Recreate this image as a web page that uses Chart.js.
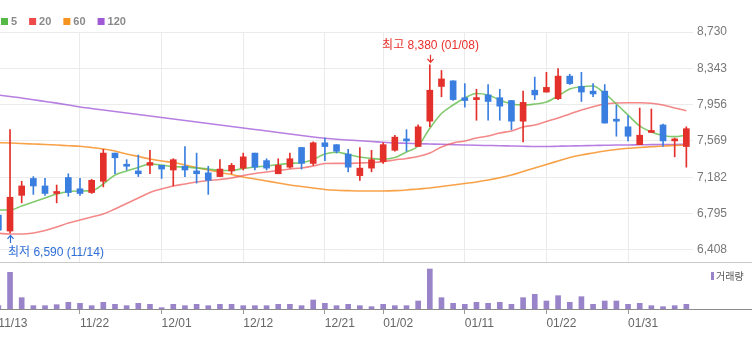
<!DOCTYPE html>
<html>
<head>
<meta charset="utf-8">
<script src="https://cdn.jsdelivr.net/npm/chart.js@4.4.1/dist/chart.umd.min.js"></script>
<style>
  html, body { margin: 0; padding: 0; background: #fff; }
  #wrap { position: relative; width: 752px; height: 337px; overflow: hidden; }
  #price { position: absolute; left: 0; top: 0; width: 752px; height: 262px; }
  #volume { position: absolute; left: 0; top: 262px; width: 752px; height: 75px; }
</style>
</head>
<body>
<div id="wrap">
  <canvas id="price" width="752" height="262"></canvas>
  <canvas id="volume" width="752" height="75"></canvas>
</div>
<script>
// Trading days shown on the chart
const dates = [
  '11/13','11/14','11/15','11/16','11/17','11/20','11/21','11/22','11/23','11/24',
  '11/27','11/28','11/29','11/30','12/01','12/04','12/05','12/06','12/07','12/08',
  '12/11','12/12','12/13','12/14','12/15','12/18','12/19','12/20','12/21','12/22',
  '12/26','12/27','12/28','01/02','01/03','01/04','01/05','01/08','01/09','01/10',
  '01/11','01/12','01/15','01/16','01/17','01/18','01/19','01/22','01/23','01/24',
  '01/25','01/26','01/29','01/30','01/31','02/01','02/02','02/05','02/06','02/07'
];

// Daily prices (KRW)
const openPrices = [
  6780, 6610, 6990, 7170, 7090, 7010, 7180, 7060, 7020, 7140,
  7440, 7320, 7250, 7310, 7310, 7260, 7300, 7250, 7230, 7190,
  7250, 7280, 7440, 7360, 7220, 7290, 7500, 7330, 7550, 7530,
  7430, 7200, 7280, 7350, 7470, 7590, 7510, 7780, 8150, 8210,
  8030, 8010, 8060, 8030, 8000, 7780, 8110, 8090, 8020, 8260,
  8150, 8100, 8100, 7800, 7720, 7530, 7660, 7740, 7570, 7510
];
const highPrices = [
  6800, 7690, 7140, 7190, 7170, 7100, 7220, 7170, 7160, 7480,
  7440, 7370, 7420, 7470, 7310, 7380, 7510, 7440, 7300, 7370,
  7330, 7440, 7440, 7380, 7380, 7440, 7500, 7560, 7600, 7530,
  7480, 7500, 7470, 7550, 7630, 7690, 7740, 8380, 8320, 8210,
  8180, 8120, 8170, 8120, 8000, 8100, 8250, 8300, 8340, 8280,
  8300, 8180, 8170, 7950, 7840, 7920, 7910, 7750, 7600, 7720
];
const lowPrices = [
  6600, 6590, 6910, 7000, 6990, 6910, 6980, 6990, 7010, 7080,
  7220, 7260, 7190, 7220, 7170, 7090, 7190, 7120, 7000, 7190,
  7220, 7260, 7260, 7260, 7220, 7280, 7270, 7310, 7360, 7440,
  7240, 7150, 7240, 7330, 7460, 7460, 7510, 7720, 8040, 8000,
  7930, 7790, 7790, 7790, 7690, 7560, 8010, 8090, 8010, 8170,
  7990, 8040, 7760, 7620, 7570, 7530, 7660, 7510, 7400, 7290
];
const closePrices = [
  6620, 6970, 7090, 7090, 7010, 7030, 7020, 7010, 7150, 7440,
  7390, 7300, 7220, 7340, 7270, 7370, 7260, 7220, 7150, 7270,
  7310, 7400, 7290, 7280, 7310, 7380, 7330, 7550, 7510, 7460,
  7290, 7280, 7370, 7530, 7610, 7570, 7720, 8110, 8230, 8010,
  8000, 8020, 7990, 7940, 7780, 7980, 8060, 8140, 8260, 8180,
  8090, 8070, 7760, 7780, 7620, 7630, 7670, 7570, 7590, 7700
];

// Moving averages
const ma5 = [
  6834, 6834, 6877, 6919, 6962, 7004, 7031, 7036, 7040, 7111,
  7207, 7249, 7287, 7324, 7313, 7295, 7292, 7281, 7271, 7255,
  7255, 7276, 7292, 7303, 7319, 7331, 7338, 7372, 7431, 7449,
  7425, 7399, 7383, 7374, 7393, 7452, 7516, 7704, 7862, 7952,
  8027, 8075, 8059, 8006, 7963, 7952, 7963, 7984, 8048, 8123,
  8147, 8155, 8075, 7963, 7846, 7729, 7665, 7628, 7615, 7633
];
const ma20 = [
  6586, 6578, 6578, 6589, 6616, 6653, 6696, 6728, 6760, 6791,
  6845, 6903, 6962, 7020, 7058, 7090, 7111, 7132, 7148, 7159,
  7175, 7202, 7223, 7239, 7255, 7271, 7281, 7303, 7329, 7331,
  7331, 7335, 7340, 7349, 7367, 7383, 7404, 7441, 7505, 7548,
  7569, 7601, 7622, 7654, 7676, 7718, 7740, 7777, 7814, 7857,
  7899, 7934, 7963, 7974, 7977, 7977, 7971, 7952, 7921, 7892
];
const ma60 = [
  7551, 7548, 7542, 7537, 7532, 7526, 7519, 7513, 7500, 7484,
  7462, 7431, 7404, 7377, 7356, 7340, 7313, 7287, 7260, 7234,
  7212, 7186, 7164, 7143, 7122, 7100, 7084, 7068, 7052, 7044,
  7040, 7037, 7037, 7037, 7040, 7047, 7058, 7068, 7084, 7100,
  7116, 7132, 7154, 7178, 7207, 7244, 7281, 7319, 7356, 7393,
  7420, 7441, 7462, 7478, 7491, 7500, 7507, 7516, 7521, 7526
];
const ma120 = [
  8059, 8043, 8027, 8008, 7990, 7972, 7952, 7931, 7915, 7899,
  7883, 7867, 7851, 7835, 7819, 7803, 7787, 7771, 7755, 7740,
  7724, 7708, 7692, 7676, 7660, 7644, 7628, 7612, 7598, 7587,
  7580, 7572, 7564, 7555, 7548, 7545, 7540, 7537, 7534, 7530,
  7526, 7523, 7521, 7519, 7516, 7513, 7510, 7510, 7513, 7516,
  7518, 7521, 7523, 7526, 7526, 7529, 7530, 7531, 7532, 7534
];

// Daily traded volume (shares)
const volumes = [
   100000, 1100000,  340000,  100000,  100000,  130000,  200000,  170000,  100000,  200000,
   140000,  100000,  170000,  140000,   40000,  140000,  100000,  140000,  100000,  140000,
   140000,  100000,  100000,  100000,  140000,  140000,  100000,  270000,  170000,  100000,
   140000,  100000,   70000,  140000,  100000,  100000,  240000, 1200000,  340000,  170000,
   140000,  200000,  170000,  200000,  140000,  340000,  440000,  240000,  400000,  200000,
   370000,  140000,  240000,  240000,  140000,  170000,  100000,   70000,  100000,  140000
];

// Axis labels
const tickDates = ['11/13','11/22','12/01','12/12','12/21','01/02','01/11','01/22','01/31'];
const priceTicks = [6408, 6795, 7182, 7569, 7956, 8343, 8730];
const maPeriods = ['5', '20', '60', '120'];
const volumeLabel = '거래량';

// ---- styling ----
const UP = '#e3302a';
const DOWN = '#3a7fe0';
const UP_TEXT = '#e8302a';
const DOWN_TEXT = '#2e6fd6';
const GRID = '#ebebeb';
const NUM_FONT = '"Liberation Sans", Arial, "Noto Sans CJK KR", sans-serif';
const maLineColors = ['rgba(98,188,72,0.8)', 'rgba(240,86,86,0.7)', 'rgba(247,146,40,0.85)', 'rgba(165,95,218,0.8)'];
const maLegendColors = ['#56b947', '#ef4a4a', '#f7941d', '#a05ad6'];
const maSeries = [ma5, ma20, ma60, ma120];

// visible index window (first session partly cut at the left edge)
const X_MIN = 0.14, X_MAX = 59.57;
const PRICE_MIN = 6280, PRICE_MAX = 8730;
const VOL_MAX = 1410000;

const idx = dates.map((_, i) => i);
const tickIndex = tickDates.map(d => dates.indexOf(d));
const candleColors = idx.map(i => closePrices[i] >= openPrices[i] ? UP : DOWN);
const fmt = v => Number(v).toLocaleString('en-US');

function dateTicks(scale) {
  scale.ticks = tickIndex.map(v => ({ value: v }));
}

// MA legend in the top-left corner
const maLegendPlugin = {
  id: 'maLegend',
  afterDraw(chart) {
    const ctx = chart.ctx;
    ctx.save();
    ctx.font = 'bold 11px ' + NUM_FONT;
    ctx.textBaseline = 'middle';
    let lx = 1;
    const cy = 21.5;
    maPeriods.forEach((p, k) => {
      ctx.fillStyle = maLegendColors[k];
      ctx.fillRect(lx, cy - 3.5, 7, 7);
      ctx.fillStyle = '#8a8a8a';
      ctx.fillText(p, lx + 10, cy);
      lx += 10 + ctx.measureText(p).width + 12;
    });
    ctx.restore();
  }
};

// Highest high / lowest low markers
function drawExtreme(chart, i, value, dir, label, color) {
  const { ctx, scales: { x, y } } = chart;
  const px = Math.round(x.getPixelForValue(i)) + 0.5;
  const py = y.getPixelForValue(value);
  const tip = py + dir * 2.5;
  const tail = py + dir * 10;
  ctx.strokeStyle = color;
  ctx.fillStyle = color;
  ctx.lineWidth = 1.2;
  ctx.beginPath();
  ctx.moveTo(px, tail);
  ctx.lineTo(px, tip);
  ctx.moveTo(px - 3, tip + dir * 3.5);
  ctx.lineTo(px, tip);
  ctx.lineTo(px + 3, tip + dir * 3.5);
  ctx.stroke();
  ctx.font = '12px ' + NUM_FONT;
  ctx.textBaseline = 'middle';
  ctx.textAlign = 'left';
  const w = ctx.measureText(label).width;
  let tx = px - w / 2;
  tx = Math.max(8, Math.min(tx, chart.chartArea.right - w));
  ctx.fillText(label, tx, py + dir * 19.5);
}

const extremesPlugin = {
  id: 'extremes',
  afterDatasetsDraw(chart) {
    let hi = 0, lo = 0;
    highPrices.forEach((v, i) => { if (v > highPrices[hi]) hi = i; });
    lowPrices.forEach((v, i) => { if (v < lowPrices[lo]) lo = i; });
    chart.ctx.save();
    drawExtreme(chart, hi, highPrices[hi], -1, '최고 ' + fmt(highPrices[hi]) + ' (' + dates[hi] + ')', UP_TEXT);
    drawExtreme(chart, lo, lowPrices[lo], 1, '최저 ' + fmt(lowPrices[lo]) + ' (' + dates[lo] + ')', DOWN_TEXT);
    chart.ctx.restore();
  }
};

// Volume panel frame and legend
const volumePanelPlugin = {
  id: 'volumePanel',
  afterDatasetsDraw(chart) {
    const { ctx, chartArea, width } = chart;
    ctx.save();
    ctx.lineWidth = 1;
    ctx.strokeStyle = '#c9c9c9';
    ctx.beginPath();
    ctx.moveTo(0, 0.5);
    ctx.lineTo(width, 0.5);
    ctx.stroke();
    ctx.strokeStyle = '#8c8c8c';
    ctx.beginPath();
    ctx.moveTo(0, Math.round(chartArea.bottom) + 0.5);
    ctx.lineTo(width, Math.round(chartArea.bottom) + 0.5);
    ctx.stroke();
    ctx.fillStyle = '#9a84c9';
    ctx.fillRect(711, 10, 3, 8);
    ctx.fillStyle = '#555';
    ctx.font = '10px "Noto Sans CJK KR", sans-serif';
    ctx.textBaseline = 'middle';
    ctx.fillText(volumeLabel, 716, 14.5);
    ctx.restore();
  }
};

new Chart(document.getElementById('price'), {
  type: 'bar',
  data: {
    datasets: [
      ...maSeries.map((s, k) => ({
        type: 'line',
        label: maPeriods[k],
        data: s.map((v, i) => ({ x: i, y: v })),
        borderColor: maLineColors[k],
        borderWidth: 1.6,
        pointRadius: 0,
        cubicInterpolationMode: 'monotone',
        order: 2
      })),
      {
        label: 'wick',
        data: idx.map(i => ({ x: i, y: [lowPrices[i], highPrices[i]] })),
        backgroundColor: candleColors,
        barThickness: 1,
        grouped: false,
        order: 1
      },
      {
        label: 'body',
        data: idx.map(i => ({ x: i, y: [openPrices[i], closePrices[i]] })),
        backgroundColor: candleColors,
        barThickness: 6,
        minBarLength: 2,
        grouped: false,
        order: 0
      }
    ]
  },
  options: {
    responsive: false,
    animation: false,
    events: [],
    layout: { padding: { top: 32, left: 0, right: 0, bottom: 0 } },
    plugins: { legend: { display: false }, tooltip: { enabled: false } },
    scales: {
      x: {
        type: 'linear', min: X_MIN, max: X_MAX, offset: false,
        afterBuildTicks: dateTicks,
        grid: { color: GRID, drawTicks: false, offset: false },
        border: { display: false },
        ticks: { display: false },
        afterFit: s => { s.height = 0; s.paddingLeft = 0; s.paddingRight = 0; }
      },
      y: {
        position: 'right', min: PRICE_MIN, max: PRICE_MAX,
        afterBuildTicks: s => { s.ticks = priceTicks.map(v => ({ value: v })); },
        grid: { color: GRID, drawTicks: false },
        border: { display: false },
        ticks: { padding: 4, color: '#777', font: { family: NUM_FONT, size: 12 }, callback: v => fmt(v) },
        afterFit: s => { s.width = 59; s.paddingTop = 0; s.paddingBottom = 0; }
      }
    }
  },
  plugins: [maLegendPlugin, extremesPlugin]
});

new Chart(document.getElementById('volume'), {
  type: 'bar',
  data: {
    datasets: [{
      label: volumeLabel,
      data: idx.map(i => ({ x: i, y: volumes[i] })),
      backgroundColor: '#9a84c9',
      barThickness: 5
    }]
  },
  options: {
    responsive: false,
    animation: false,
    events: [],
    layout: { padding: { top: 0, left: 0, right: 59, bottom: 0 } },
    plugins: { legend: { display: false }, tooltip: { enabled: false } },
    scales: {
      x: {
        type: 'linear', min: X_MIN, max: X_MAX, offset: false,
        afterBuildTicks: dateTicks,
        grid: { drawOnChartArea: false, drawTicks: true, tickLength: 5, color: '#999', offset: false },
        border: { display: false },
        ticks: {
          align: 'start', padding: 2, color: '#666', maxRotation: 0, autoSkip: false,
          font: { family: NUM_FONT, size: 12 },
          callback: (v, i) => tickDates[i]
        },
        afterFit: s => { s.height = 28; s.paddingLeft = 0; s.paddingRight = 0; }
      },
      y: { display: false, min: 0, max: VOL_MAX }
    }
  },
  plugins: [volumePanelPlugin]
});
</script>
</body>
</html>
